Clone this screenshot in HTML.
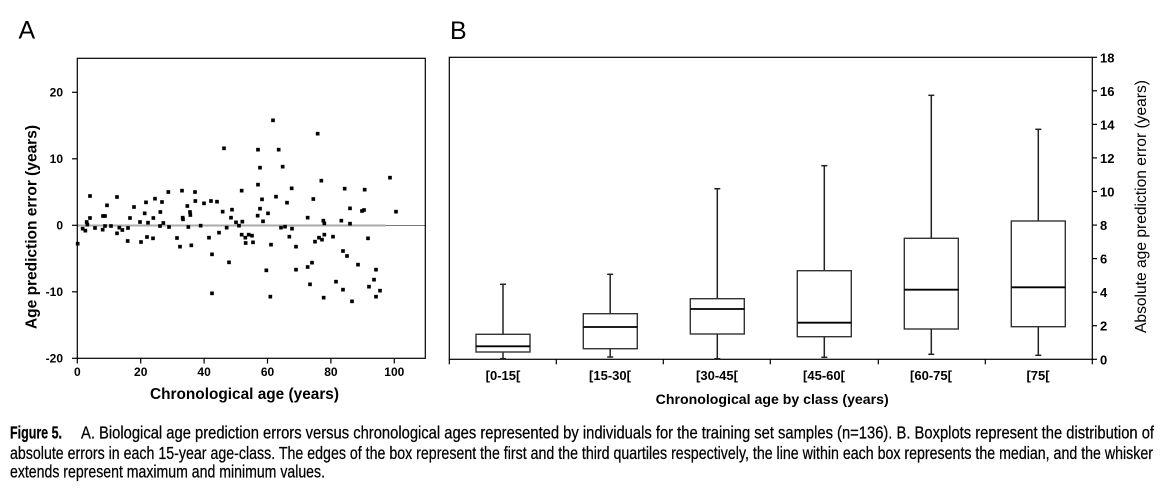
<!DOCTYPE html>
<html><head><meta charset="utf-8">
<style>
html,body{margin:0;padding:0;background:#fff;}
svg{display:block;}
text{font-family:"Liberation Sans",Arial,sans-serif;fill:#000;}
.b{font-weight:bold;}
.cap{stroke:#000;stroke-width:0.25;}
</style></head>
<body>
<svg width="1167" height="489" viewBox="0 0 1167 489" xmlns="http://www.w3.org/2000/svg">
<rect x="0" y="0" width="1167" height="489" fill="#fff"/>

<!-- Panel labels -->
<text x="18.5" y="38.5" font-size="25">A</text>
<text x="450" y="39" font-size="25">B</text>

<!-- ============ PANEL A ============ -->
<line x1="77.3" y1="225.5" x2="385.7" y2="225.5" stroke="#aaa" stroke-width="2"/>
<line x1="385.7" y1="225.5" x2="425.3" y2="225.5" stroke="#777" stroke-width="1"/>

<g transform="scale(0.333333)" fill="#000">
<rect x="227.5" y="725.5" width="11" height="11"/>
<rect x="242.5" y="680.5" width="11" height="11"/>
<rect x="250.5" y="686.5" width="11" height="11"/>
<rect x="254.5" y="660.5" width="11" height="11"/>
<rect x="256.5" y="668.5" width="11" height="11"/>
<rect x="264.5" y="648.5" width="11" height="11"/>
<rect x="264.5" y="582.5" width="11" height="11"/>
<rect x="279.5" y="678.5" width="11" height="11"/>
<rect x="302.5" y="683.5" width="11" height="11"/>
<rect x="303.5" y="642.5" width="11" height="11"/>
<rect x="309.5" y="642.5" width="11" height="11"/>
<rect x="309.5" y="672.5" width="11" height="11"/>
<rect x="315.5" y="610.5" width="11" height="11"/>
<rect x="327.5" y="672.5" width="11" height="11"/>
<rect x="345.5" y="585.5" width="11" height="11"/>
<rect x="345.5" y="694.5" width="11" height="11"/>
<rect x="352.5" y="677.5" width="11" height="11"/>
<rect x="361.5" y="684.5" width="11" height="11"/>
<rect x="377.5" y="717.5" width="11" height="11"/>
<rect x="378.5" y="678.5" width="11" height="11"/>
<rect x="384.5" y="648.5" width="11" height="11"/>
<rect x="396.5" y="615.5" width="11" height="11"/>
<rect x="414.5" y="660.5" width="11" height="11"/>
<rect x="417.5" y="720.5" width="11" height="11"/>
<rect x="428.5" y="634.5" width="11" height="11"/>
<rect x="432.5" y="601.5" width="11" height="11"/>
<rect x="435.5" y="705.5" width="11" height="11"/>
<rect x="438.5" y="662.5" width="11" height="11"/>
<rect x="454.5" y="648.5" width="11" height="11"/>
<rect x="453.5" y="709.5" width="11" height="11"/>
<rect x="459.5" y="590.5" width="11" height="11"/>
<rect x="474.5" y="672.5" width="11" height="11"/>
<rect x="475.5" y="630.5" width="11" height="11"/>
<rect x="480.5" y="600.5" width="11" height="11"/>
<rect x="484.5" y="663.5" width="11" height="11"/>
<rect x="499.5" y="570.5" width="11" height="11"/>
<rect x="501.5" y="675.5" width="11" height="11"/>
<rect x="525.5" y="708.5" width="11" height="11"/>
<rect x="534.5" y="734.5" width="11" height="11"/>
<rect x="540.5" y="566.5" width="11" height="11"/>
<rect x="542.5" y="647.5" width="11" height="11"/>
<rect x="543.5" y="652.5" width="11" height="11"/>
<rect x="556.5" y="612.5" width="11" height="11"/>
<rect x="559.5" y="675.5" width="11" height="11"/>
<rect x="564.5" y="630.5" width="11" height="11"/>
<rect x="565.5" y="639.5" width="11" height="11"/>
<rect x="568.5" y="730.5" width="11" height="11"/>
<rect x="579.5" y="570.5" width="11" height="11"/>
<rect x="580.5" y="597.5" width="11" height="11"/>
<rect x="596.5" y="671.5" width="11" height="11"/>
<rect x="666.5" y="439.5" width="11" height="11"/>
<rect x="768.5" y="443.5" width="11" height="11"/>
<rect x="830.5" y="443.5" width="11" height="11"/>
<rect x="813.5" y="355.5" width="11" height="11"/>
<rect x="947.5" y="395.5" width="11" height="11"/>
<rect x="774.5" y="497.5" width="11" height="11"/>
<rect x="842.5" y="494.5" width="11" height="11"/>
<rect x="958.5" y="536.5" width="11" height="11"/>
<rect x="1164.5" y="527.5" width="11" height="11"/>
<rect x="768.5" y="548.5" width="11" height="11"/>
<rect x="719.5" y="566.5" width="11" height="11"/>
<rect x="869.5" y="559.5" width="11" height="11"/>
<rect x="1028.5" y="560.5" width="11" height="11"/>
<rect x="1088.5" y="563.5" width="11" height="11"/>
<rect x="780.5" y="592.5" width="11" height="11"/>
<rect x="822.5" y="584.5" width="11" height="11"/>
<rect x="855.5" y="602.5" width="11" height="11"/>
<rect x="934.5" y="591.5" width="11" height="11"/>
<rect x="606.5" y="604.5" width="11" height="11"/>
<rect x="627.5" y="597.5" width="11" height="11"/>
<rect x="645.5" y="599.5" width="11" height="11"/>
<rect x="662.5" y="629.5" width="11" height="11"/>
<rect x="690.5" y="623.5" width="11" height="11"/>
<rect x="774.5" y="620.5" width="11" height="11"/>
<rect x="798.5" y="634.5" width="11" height="11"/>
<rect x="767.5" y="641.5" width="11" height="11"/>
<rect x="687.5" y="647.5" width="11" height="11"/>
<rect x="702.5" y="661.5" width="11" height="11"/>
<rect x="721.5" y="659.5" width="11" height="11"/>
<rect x="783.5" y="658.5" width="11" height="11"/>
<rect x="917.5" y="647.5" width="11" height="11"/>
<rect x="964.5" y="656.5" width="11" height="11"/>
<rect x="967.5" y="664.5" width="11" height="11"/>
<rect x="1018.5" y="656.5" width="11" height="11"/>
<rect x="1044.5" y="619.5" width="11" height="11"/>
<rect x="1044.5" y="665.5" width="11" height="11"/>
<rect x="1080.5" y="627.5" width="11" height="11"/>
<rect x="1086.5" y="624.5" width="11" height="11"/>
<rect x="1182.5" y="629.5" width="11" height="11"/>
<rect x="674.5" y="677.5" width="11" height="11"/>
<rect x="711.5" y="671.5" width="11" height="11"/>
<rect x="837.5" y="677.5" width="11" height="11"/>
<rect x="849.5" y="674.5" width="11" height="11"/>
<rect x="870.5" y="680.5" width="11" height="11"/>
<rect x="621.5" y="707.5" width="11" height="11"/>
<rect x="651.5" y="692.5" width="11" height="11"/>
<rect x="719.5" y="698.5" width="11" height="11"/>
<rect x="730.5" y="707.5" width="11" height="11"/>
<rect x="740.5" y="698.5" width="11" height="11"/>
<rect x="750.5" y="701.5" width="11" height="11"/>
<rect x="731.5" y="723.5" width="11" height="11"/>
<rect x="753.5" y="721.5" width="11" height="11"/>
<rect x="862.5" y="704.5" width="11" height="11"/>
<rect x="951.5" y="707.5" width="11" height="11"/>
<rect x="967.5" y="698.5" width="11" height="11"/>
<rect x="960.5" y="713.5" width="11" height="11"/>
<rect x="939.5" y="719.5" width="11" height="11"/>
<rect x="993.5" y="704.5" width="11" height="11"/>
<rect x="1098.5" y="709.5" width="11" height="11"/>
<rect x="807.5" y="728.5" width="11" height="11"/>
<rect x="882.5" y="734.5" width="11" height="11"/>
<rect x="630.5" y="757.5" width="11" height="11"/>
<rect x="681.5" y="781.5" width="11" height="11"/>
<rect x="793.5" y="805.5" width="11" height="11"/>
<rect x="882.5" y="803.5" width="11" height="11"/>
<rect x="917.5" y="795.5" width="11" height="11"/>
<rect x="930.5" y="782.5" width="11" height="11"/>
<rect x="1023.5" y="747.5" width="11" height="11"/>
<rect x="1035.5" y="762.5" width="11" height="11"/>
<rect x="1068.5" y="788.5" width="11" height="11"/>
<rect x="1122.5" y="803.5" width="11" height="11"/>
<rect x="1116.5" y="833.5" width="11" height="11"/>
<rect x="924.5" y="847.5" width="11" height="11"/>
<rect x="1002.5" y="839.5" width="11" height="11"/>
<rect x="1023.5" y="863.5" width="11" height="11"/>
<rect x="1101.5" y="854.5" width="11" height="11"/>
<rect x="1134.5" y="866.5" width="11" height="11"/>
<rect x="630.5" y="874.5" width="11" height="11"/>
<rect x="805.5" y="884.5" width="11" height="11"/>
<rect x="965.5" y="887.5" width="11" height="11"/>
<rect x="1050.5" y="898.5" width="11" height="11"/>
<rect x="1122.5" y="884.5" width="11" height="11"/>
</g>

<rect x="77.3" y="58.3" width="348" height="300" fill="none" stroke="#000" stroke-width="1.2"/>
<g stroke="#000" stroke-width="1.2">
<line x1="72" y1="92.3" x2="77.3" y2="92.3"/>
<line x1="72" y1="158.8" x2="77.3" y2="158.8"/>
<line x1="72" y1="225.3" x2="77.3" y2="225.3"/>
<line x1="72" y1="291.8" x2="77.3" y2="291.8"/>
<line x1="72" y1="358.3" x2="77.3" y2="358.3"/>
<line x1="77.3" y1="358.3" x2="77.3" y2="363.5"/>
<line x1="140.7" y1="358.3" x2="140.7" y2="363.5"/>
<line x1="204.1" y1="358.3" x2="204.1" y2="363.5"/>
<line x1="267.5" y1="358.3" x2="267.5" y2="363.5"/>
<line x1="330.9" y1="358.3" x2="330.9" y2="363.5"/>
<line x1="394.3" y1="358.3" x2="394.3" y2="363.5"/>
</g>
<g class="b" font-size="12" text-anchor="end">
<text x="63" y="96.5">20</text>
<text x="63" y="163">10</text>
<text x="63" y="229.5">0</text>
<text x="63" y="296">-10</text>
<text x="63" y="362.5">-20</text>
</g>
<g class="b" font-size="12" text-anchor="middle">
<text x="77.3" y="376">0</text>
<text x="140.7" y="376">20</text>
<text x="204.1" y="376">40</text>
<text x="267.5" y="376">60</text>
<text x="330.9" y="376">80</text>
<text x="394.3" y="376">100</text>
</g>
<text class="b" x="150" y="399" font-size="15.5" textLength="189" lengthAdjust="spacingAndGlyphs">Chronological age (years)</text>
<text class="b" transform="translate(36.5,329) rotate(-90)" x="0" y="0" font-size="15.5" textLength="204" lengthAdjust="spacingAndGlyphs">Age prediction error (years)</text>

<!-- ============ PANEL B ============ -->
<rect x="449.3" y="57.3" width="643" height="302" fill="none" stroke="#000" stroke-width="1.2"/>
<g stroke="#000" stroke-width="1.2">
<line x1="449.3" y1="359.3" x2="449.3" y2="364.3"/>
<line x1="556.3" y1="359.3" x2="556.3" y2="364.3"/>
<line x1="663.3" y1="359.3" x2="663.3" y2="364.3"/>
<line x1="770.3" y1="359.3" x2="770.3" y2="364.3"/>
<line x1="878.3" y1="359.3" x2="878.3" y2="364.3"/>
<line x1="985.3" y1="359.3" x2="985.3" y2="364.3"/>
<line x1="1092.3" y1="359.3" x2="1092.3" y2="364.3"/>
<line x1="1092.3" y1="359.3" x2="1097" y2="359.3"/>
<line x1="1092.3" y1="325.7" x2="1097" y2="325.7"/>
<line x1="1092.3" y1="292.2" x2="1097" y2="292.2"/>
<line x1="1092.3" y1="258.6" x2="1097" y2="258.6"/>
<line x1="1092.3" y1="225.1" x2="1097" y2="225.1"/>
<line x1="1092.3" y1="191.5" x2="1097" y2="191.5"/>
<line x1="1092.3" y1="157.9" x2="1097" y2="157.9"/>
<line x1="1092.3" y1="124.4" x2="1097" y2="124.4"/>
<line x1="1092.3" y1="90.8" x2="1097" y2="90.8"/>
<line x1="1092.3" y1="57.3" x2="1097" y2="57.3"/>
</g>
<g class="b" font-size="13">
<text x="1100" y="364.3">0</text>
<text x="1100" y="330.7">2</text>
<text x="1100" y="297.2">4</text>
<text x="1100" y="263.6">6</text>
<text x="1100" y="230.1">8</text>
<text x="1100" y="196.5">10</text>
<text x="1100" y="162.9">12</text>
<text x="1100" y="129.4">14</text>
<text x="1100" y="95.8">16</text>
<text x="1100" y="62.3">18</text>
</g>
<text transform="translate(1146,333) rotate(-90)" x="0" y="0" font-size="15.5" textLength="253" lengthAdjust="spacingAndGlyphs">Absolute age prediction error (years)</text>

<g class="b" font-size="13" text-anchor="middle">
<text x="503" y="380">[0-15[</text>
<text x="610" y="380">[15-30[</text>
<text x="717" y="380">[30-45[</text>
<text x="824" y="380">[45-60[</text>
<text x="931" y="380">[60-75[</text>
<text x="1038" y="380">[75[</text>
</g>
<text class="b" x="655.7" y="404" font-size="14" textLength="233" lengthAdjust="spacingAndGlyphs">Chronological age by class (years)</text>

<g fill="none">
<g>
<line x1="503" y1="284.3" x2="503" y2="334.3" stroke="#222" stroke-width="1.5"/>
<line x1="503" y1="352" x2="503" y2="358.7" stroke="#222" stroke-width="1.5"/>
<line x1="500" y1="284.3" x2="506" y2="284.3" stroke="#222" stroke-width="1.5"/>
<line x1="500" y1="358.7" x2="506" y2="358.7" stroke="#222" stroke-width="1.5"/>
<rect x="476" y="334.3" width="54" height="17.7" stroke="#333" stroke-width="1.4" fill="#fff"/>
<line x1="476" y1="346.3" x2="530" y2="346.3" stroke="#000" stroke-width="1.8"/>
</g>
<g>
<line x1="610.2" y1="274.3" x2="610.2" y2="313.7" stroke="#222" stroke-width="1.5"/>
<line x1="610.2" y1="348.7" x2="610.2" y2="357" stroke="#222" stroke-width="1.5"/>
<line x1="607.2" y1="274.3" x2="613.2" y2="274.3" stroke="#222" stroke-width="1.5"/>
<line x1="607.2" y1="357" x2="613.2" y2="357" stroke="#222" stroke-width="1.5"/>
<rect x="583.3" y="313.7" width="54" height="35" stroke="#333" stroke-width="1.4" fill="#fff"/>
<line x1="583.3" y1="327" x2="637.3" y2="327" stroke="#000" stroke-width="1.8"/>
</g>
<g>
<line x1="717.3" y1="188.7" x2="717.3" y2="298.7" stroke="#222" stroke-width="1.5"/>
<line x1="717.3" y1="334" x2="717.3" y2="358.7" stroke="#222" stroke-width="1.5"/>
<line x1="714.3" y1="188.7" x2="720.3" y2="188.7" stroke="#222" stroke-width="1.5"/>
<line x1="714.3" y1="358.7" x2="720.3" y2="358.7" stroke="#222" stroke-width="1.5"/>
<rect x="690.3" y="298.7" width="54" height="35.3" stroke="#333" stroke-width="1.4" fill="#fff"/>
<line x1="690.3" y1="309" x2="744.3" y2="309" stroke="#000" stroke-width="1.8"/>
</g>
<g>
<line x1="824.3" y1="165.7" x2="824.3" y2="270.7" stroke="#222" stroke-width="1.5"/>
<line x1="824.3" y1="336.7" x2="824.3" y2="357.3" stroke="#222" stroke-width="1.5"/>
<line x1="821.3" y1="165.7" x2="827.3" y2="165.7" stroke="#222" stroke-width="1.5"/>
<line x1="821.3" y1="357.3" x2="827.3" y2="357.3" stroke="#222" stroke-width="1.5"/>
<rect x="797.3" y="270.7" width="54" height="66" stroke="#333" stroke-width="1.4" fill="#fff"/>
<line x1="797.3" y1="322.7" x2="851.3" y2="322.7" stroke="#000" stroke-width="1.8"/>
</g>
<g>
<line x1="931.3" y1="95.3" x2="931.3" y2="238.3" stroke="#222" stroke-width="1.5"/>
<line x1="931.3" y1="329" x2="931.3" y2="354.3" stroke="#222" stroke-width="1.5"/>
<line x1="928.3" y1="95.3" x2="934.3" y2="95.3" stroke="#222" stroke-width="1.5"/>
<line x1="928.3" y1="354.3" x2="934.3" y2="354.3" stroke="#222" stroke-width="1.5"/>
<rect x="904.3" y="238.3" width="54" height="90.7" stroke="#333" stroke-width="1.4" fill="#fff"/>
<line x1="904.3" y1="289.7" x2="958.3" y2="289.7" stroke="#000" stroke-width="1.8"/>
</g>
<g>
<line x1="1038.3" y1="129.3" x2="1038.3" y2="221" stroke="#222" stroke-width="1.5"/>
<line x1="1038.3" y1="326.7" x2="1038.3" y2="355.3" stroke="#222" stroke-width="1.5"/>
<line x1="1035.3" y1="129.3" x2="1041.3" y2="129.3" stroke="#222" stroke-width="1.5"/>
<line x1="1035.3" y1="355.3" x2="1041.3" y2="355.3" stroke="#222" stroke-width="1.5"/>
<rect x="1011.3" y="221" width="54" height="105.7" stroke="#333" stroke-width="1.4" fill="#fff"/>
<line x1="1011.3" y1="287.3" x2="1065.3" y2="287.3" stroke="#000" stroke-width="1.8"/>
</g>
</g>

<!-- ============ CAPTION ============ -->
<text class="b cap" x="10" y="438.3" font-size="17.5" textLength="52" lengthAdjust="spacingAndGlyphs">Figure 5.</text>
<text class="cap" x="81" y="438.3" font-size="17.5" textLength="1073" lengthAdjust="spacingAndGlyphs">A. Biological age prediction errors versus chronological ages represented by individuals for the training set samples (n=136). B. Boxplots represent the distribution of</text>
<text class="cap" x="10" y="459" font-size="17.5" textLength="1143" lengthAdjust="spacingAndGlyphs">absolute errors in each 15-year age-class. The edges of the box represent the first and the third quartiles respectively, the line within each box represents the median, and the whisker</text>
<text class="cap" x="10" y="477.5" font-size="17.5" textLength="315" lengthAdjust="spacingAndGlyphs">extends represent maximum and minimum values.</text>
</svg>
</body></html>
